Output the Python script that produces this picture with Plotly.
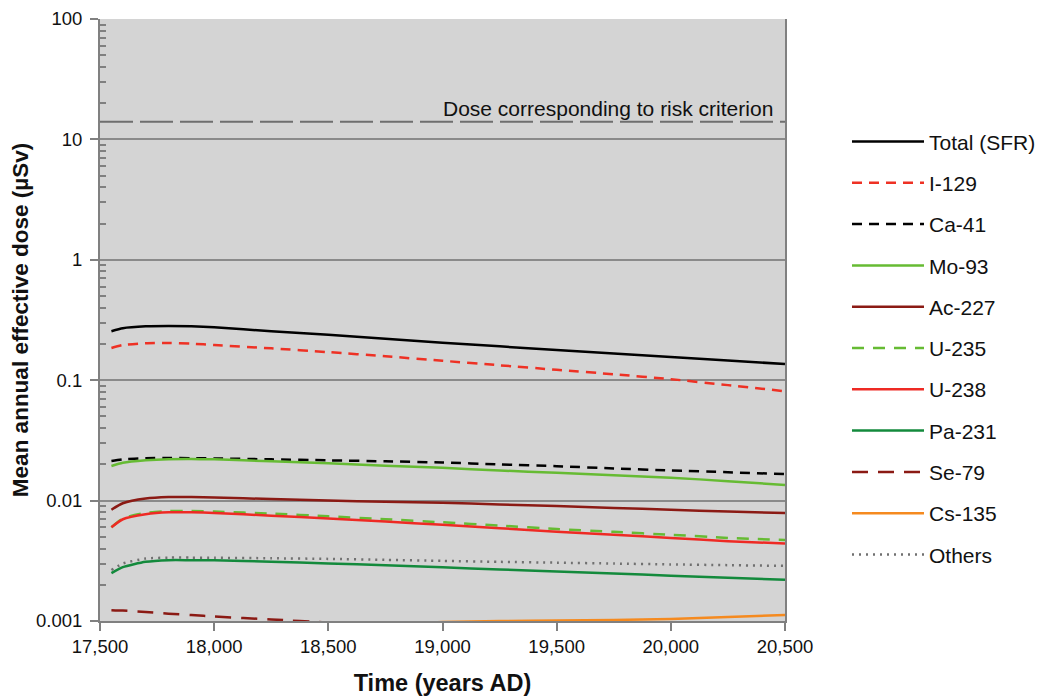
import math
import plotly.graph_objects as go

years = [17550, 17600, 17700, 17800, 17900, 18000, 18250, 18500, 18750, 19000, 19250, 19500, 19750, 20000, 20250, 20500]

total_sfr = [0.255, 0.270, 0.280, 0.282, 0.280, 0.275, 0.255, 0.238, 0.221, 0.205, 0.191, 0.178, 0.167, 0.156, 0.146, 0.136]
i129 = [0.185, 0.196, 0.203, 0.204, 0.201, 0.196, 0.184, 0.171, 0.158, 0.145, 0.133, 0.122, 0.112, 0.102, 0.091, 0.081]
ca41 = [0.0213, 0.0220, 0.0225, 0.0226, 0.0225, 0.0224, 0.0220, 0.0216, 0.0212, 0.0207, 0.0200, 0.0193, 0.0185, 0.0178, 0.0172, 0.0166]
mo93 = [0.0194, 0.0206, 0.0216, 0.0221, 0.0222, 0.0220, 0.0212, 0.0204, 0.0195, 0.0187, 0.0178, 0.0170, 0.0162, 0.0155, 0.0145, 0.0135]
ac227 = [0.0084, 0.0095, 0.0104, 0.0107, 0.0107, 0.0106, 0.0103, 0.0100, 0.0098, 0.0096, 0.0093, 0.0090, 0.0087, 0.0084, 0.0081, 0.0079]
u235 = [0.0060, 0.0071, 0.0079, 0.0082, 0.0082, 0.0081, 0.0078, 0.0074, 0.0070, 0.0066, 0.0062, 0.0058, 0.0055, 0.0052, 0.0049, 0.0047]
u238 = [0.0060, 0.0070, 0.0077, 0.0080, 0.0080, 0.0079, 0.0075, 0.0071, 0.0067, 0.0063, 0.0059, 0.0055, 0.0052, 0.0049, 0.0046, 0.0044]
pa231 = [0.0025, 0.0028, 0.0031, 0.0032, 0.0032, 0.0032, 0.00311, 0.00301, 0.00290, 0.00279, 0.00268, 0.00258, 0.00248, 0.00238, 0.00229, 0.0022]
se79 = [0.00123, 0.00122, 0.00119, 0.00115, 0.00112, 0.00109, 0.00103, 0.00097, 0.00092, 0.00088, 0.00084, 0.00080, 0.00077, 0.00074, 0.00071, 0.00068]
cs135 = [0.00082, 0.00083, 0.00084, 0.00085, 0.00086, 0.00087, 0.00089, 0.00091, 0.00094, 0.00098, 0.00100, 0.00101, 0.00102, 0.00104, 0.00108, 0.00112]
others = [0.00265, 0.0030, 0.0033, 0.00336, 0.00336, 0.00335, 0.00332, 0.00328, 0.00322, 0.00316, 0.00310, 0.00305, 0.00300, 0.00295, 0.00291, 0.00287]

risk_dose = 14.0
risk_label = "Dose corresponding to risk criterion"

x_ticks = [17500, 18000, 18500, 19000, 19500, 20000, 20500]
x_labels = ["17,500", "18,000", "18,500", "19,000", "19,500", "20,000", "20,500"]
y_ticks = [0.001, 0.01, 0.1, 1, 10, 100]
y_labels = ["0.001", "0.01", "0.1", "1", "10", "100"]
y_minor = [k * 10.0 ** e for e in range(-3, 2) for k in range(2, 10)]

series = [
    ("Total (SFR)", total_sfr, "#000000", "solid"),
    ("I-129", i129, "#ee3124", "10px,7px"),
    ("Ca-41", ca41, "#000000", "10px,7px"),
    ("Mo-93", mo93, "#66bb33", "solid"),
    ("Ac-227", ac227, "#8b1a14", "solid"),
    ("U-235", u235, "#66bb33", "12px,9px"),
    ("U-238", u238, "#ee2a24", "solid"),
    ("Pa-231", pa231, "#138a3c", "solid"),
    ("Se-79", se79, "#8b1a14", "16px,10px"),
    ("Cs-135", cs135, "#f58a1f", "solid"),
    ("Others", others, "#707070", "2px,5px"),
]

FONT = "Liberation Sans, Arial, sans-serif"

fig = go.Figure()
for i, (name, vals, color, dash) in enumerate(series):
    fig.add_trace(go.Scatter(
        x=years, y=vals, name=name, mode="lines",
        line=dict(color=color, width=2.5, dash=dash, shape="spline", smoothing=0.6),
        legendgroup=str(i),
    ))

fig.add_shape(type="line", xref="paper", x0=0, x1=1, yref="y", y0=risk_dose, y1=risk_dose,
              line=dict(color="#6e6e6e", width=2, dash="33px,7px"), layer="above")
fig.add_annotation(x=1, xref="paper", y=math.log10(risk_dose), yref="y",
                   xanchor="right", yanchor="bottom",
                   text=risk_label, showarrow=False, xshift=-10, yshift=0,
                   font=dict(size=21, color="#111111", family=FONT))

fig.update_layout(
    width=1039, height=697,
    margin=dict(l=100, r=254, t=19, b=76, autoexpand=False),
    paper_bgcolor="white",
    plot_bgcolor="#d4d4d4",
    font=dict(family=FONT, size=18, color="#111111"),
    showlegend=True,
    legend=dict(x=1.0905, xanchor="left", y=0.830, yanchor="top",
                font=dict(size=21, color="#111111"),
                tracegroupgap=11, itemwidth=72, bgcolor="rgba(0,0,0,0)"),
)

fig.update_xaxes(
    range=[17500, 20500], tickmode="array", tickvals=x_ticks, ticktext=x_labels,
    showgrid=False, zeroline=False, automargin=False,
    showline=True, linecolor="#808080", linewidth=2, mirror=False,
    ticks="outside", ticklen=8, tickwidth=2, tickcolor="#808080",
    tickfont=dict(size=18.5),
    title=dict(text="<b>Time (years AD)</b>", font=dict(size=23.5), standoff=18),
)
fig.update_yaxes(
    type="log", range=[-3, 2], tickmode="array", tickvals=y_ticks, ticktext=y_labels,
    showgrid=True, gridcolor="#8a8a8a", gridwidth=1.5, automargin=False,
    showline=True, linecolor="#808080", linewidth=2, mirror=True,
    ticks="outside", ticklen=8, tickwidth=2, tickcolor="#808080",
    tickfont=dict(size=18.5), ticklabelstandoff=4,
    minor=dict(tickmode="array", tickvals=y_minor, ticks="inside", ticklen=6,
               tickwidth=2, tickcolor="#808080", showgrid=False),
    title=dict(text="<b>Mean annual effective dose (µSv)</b>", font=dict(size=22.5), standoff=1),
)

fig.write_html("out.html", config={"displayModeBar": False},
               post_script="document.body.style.margin='0';document.body.style.overflow='hidden';")
